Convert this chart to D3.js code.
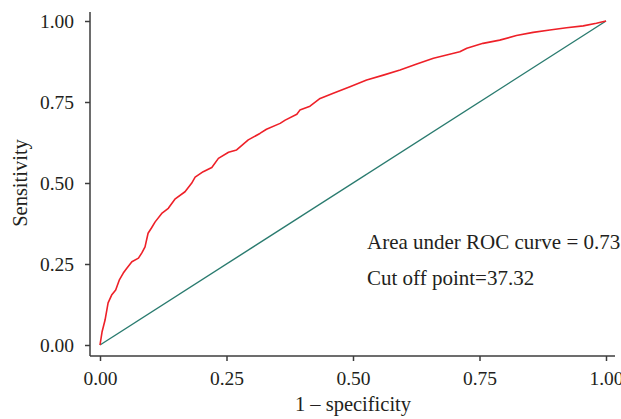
<!DOCTYPE html>
<html>
<head>
<meta charset="utf-8">
<script src="https://cdn.jsdelivr.net/npm/d3@7"></script>
<style>
  body { margin: 0; background: #fff; }
  svg text { font-family: "Liberation Serif", "Times New Roman", serif; fill: #231f20; }
</style>
</head>
<body>
<svg id="chart" width="621" height="419"></svg>
<script>
// ROC curve: 1 - specificity vs sensitivity
var fpr = [0, 0.004, 0.01, 0.016, 0.023, 0.031, 0.038, 0.046, 0.053, 0.063,
  0.076, 0.083, 0.089, 0.095, 0.102, 0.109, 0.122, 0.135, 0.148, 0.168,
  0.181, 0.188, 0.204, 0.221, 0.234, 0.254, 0.27, 0.293, 0.316, 0.329,
  0.356, 0.366, 0.389, 0.395, 0.415, 0.435, 0.461, 0.494, 0.527, 0.56,
  0.593, 0.626, 0.659, 0.685, 0.711, 0.725, 0.757, 0.79, 0.823, 0.856,
  0.889, 0.922, 0.955, 0.981, 1.0]
var tpr = [0, 0.04, 0.077, 0.13, 0.154, 0.17, 0.20, 0.222, 0.237, 0.257,
  0.268, 0.285, 0.303, 0.345, 0.362, 0.38, 0.406, 0.422, 0.45, 0.473,
  0.499, 0.518, 0.535, 0.548, 0.576, 0.595, 0.602, 0.633, 0.653, 0.666,
  0.684, 0.694, 0.712, 0.725, 0.737, 0.761, 0.777, 0.797, 0.818, 0.833,
  0.849, 0.867, 0.885, 0.895, 0.905, 0.916, 0.931, 0.941, 0.955, 0.965,
  0.972, 0.979, 0.985, 0.993, 1.0]
var refLine = [0, 1]
var tickValues = [0, 0.25, 0.5, 0.75, 1]
var notes = ["Area under ROC curve = 0.73", "Cut off point=37.32"]
var xTitle = "1 \u2013 specificity"
var yTitle = "Sensitivity"

var svg = d3.select("#chart")
var x = d3.scaleLinear().domain([0, 1]).range([100, 606])
var y = d3.scaleLinear().domain([0, 1]).range([345, 21])

var axisColor = "#3c3c3c"

// x axis
var gx = svg.append("g").attr("transform", "translate(0,356)")
  .call(d3.axisBottom(x).tickValues(tickValues).tickFormat(d3.format(".2f"))
    .tickSize(5).tickPadding(10))
gx.select(".domain").remove()
gx.selectAll("line").attr("stroke", axisColor).attr("stroke-width", 1.5)
gx.selectAll("text").style("font-size", "19.5px").attr("fill", "#231f20")

// y axis
var gy = svg.append("g").attr("transform", "translate(90,0)")
  .call(d3.axisLeft(y).tickValues(tickValues).tickFormat(d3.format(".2f"))
    .tickSize(5).tickPadding(11))
gy.select(".domain").remove()
gy.selectAll("line").attr("stroke", axisColor).attr("stroke-width", 1.5)
gy.selectAll("text").style("font-size", "19.5px").attr("fill", "#231f20")

// axis frame lines
svg.append("line")
  .attr("x1", 90).attr("x2", 615).attr("y1", 356).attr("y2", 356)
  .attr("stroke", axisColor).attr("stroke-width", 1.5)
svg.append("line")
  .attr("x1", 90).attr("x2", 90).attr("y1", 12).attr("y2", 356)
  .attr("stroke", axisColor).attr("stroke-width", 1.5)

// reference diagonal
svg.append("line")
  .attr("x1", x(refLine[0])).attr("y1", y(refLine[0]))
  .attr("x2", x(refLine[1])).attr("y2", y(refLine[1]))
  .attr("stroke", "#2a7b6f").attr("stroke-width", 1.4)

// ROC curve
var line = d3.line()
  .x(function(d, i){ return x(fpr[i]) })
  .y(function(d, i){ return y(tpr[i]) })
svg.append("path")
  .datum(fpr)
  .attr("d", line)
  .attr("fill", "none")
  .attr("stroke", "#ee2028")
  .attr("stroke-width", 1.6)
  .attr("stroke-linejoin", "round")

// annotations
svg.selectAll(".note").data(notes).enter().append("text")
  .attr("class", "note")
  .attr("x", 367)
  .attr("y", function(d, i){ return 249 + i * 36 })
  .style("font-size", "21px")
  .text(function(d){ return d })

// titles
svg.append("text")
  .attr("x", (x(0) + x(1)) / 2).attr("y", 411)
  .attr("text-anchor", "middle")
  .style("font-size", "20.5px")
  .text(xTitle)

svg.append("text")
  .attr("transform", "translate(27," + ((y(0) + y(1)) / 2) + ") rotate(-90)")
  .attr("text-anchor", "middle")
  .style("font-size", "20.5px")
  .text(yTitle)
</script>
</body>
</html>
